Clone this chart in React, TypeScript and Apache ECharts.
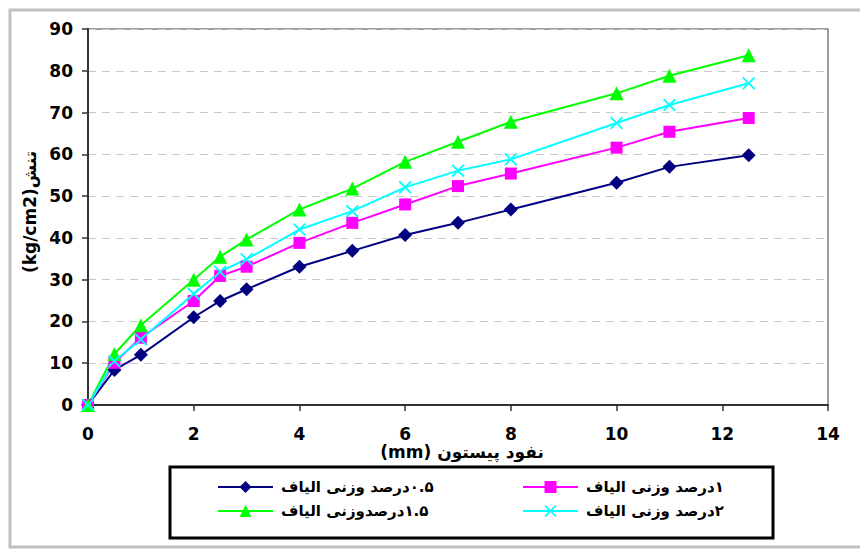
import React, { useEffect, useRef } from "react";
import * as echarts from "echarts";

const xValues = [0, 0.5, 1, 2, 2.5, 3, 4, 5, 6, 7, 8, 10, 11, 12.5];
const s05 = [0, 8.4, 12.0, 21.0, 24.9, 27.7, 33.1, 36.9, 40.7, 43.6, 46.8, 53.2, 57.0, 59.8];
const s1 = [0, 10.1, 16.1, 24.9, 30.9, 33.1, 38.8, 43.6, 48.0, 52.4, 55.4, 61.6, 65.4, 68.7];
const s15 = [0, 12.2, 19.1, 30.0, 35.5, 39.6, 46.8, 51.8, 58.2, 63.0, 67.8, 74.6, 78.8, 83.7];
const s2 = [0, 10.5, 15.7, 26.6, 31.9, 34.9, 42.0, 46.4, 52.1, 56.1, 58.8, 67.5, 71.8, 77.0];

const RLE = "\u202B";
const PDF = "\u202C";
const names = [
  "۰.۵درصد وزنی الیاف",
  "۱درصد وزنی الیاف",
  "۱.۵درصدوزنی الیاف",
  "۲درصد وزنی الیاف",
];
const labels = names.map((n) => RLE + n + PDF);
const colors = ["#000080", "#ff00ff", "#00ff00", "#00ffff"];
const yAxisTitle = "(kg/cm2)تنش";
const xAxisTitle = "(mm) نفود پیستون";

const FONT = '"DejaVu Sans", Verdana, sans-serif';
const CROSS = "path://M0,1 L1,0 L5,4 L9,0 L10,1 L6,5 L10,9 L9,10 L5,6 L1,10 L0,9 L4,5 Z";

export default function App() {
  const ref = useRef<HTMLDivElement>(null);
  useEffect(() => {
    if (!ref.current) return;
    const chart = echarts.init(ref.current, undefined, { renderer: "svg" });
    const seriesData = [s05, s1, s15, s2];
    const symbols = ["diamond", "rect", "triangle", CROSS];
    const sizes = [14, 12, 14, 13];
    const series = seriesData.map((d, i) => ({
      name: labels[i],
      type: "line",
      data: xValues.map((x, j) => [x, d[j]]),
      symbol: symbols[i],
      symbolSize: sizes[i],
      showAllSymbol: true,
      lineStyle: { color: colors[i], width: 2 },
      itemStyle: { color: colors[i] },
      emphasis: { disabled: true },
    }));
    const legendPos = [
      { left: 217, top: 479 },
      { left: 522, top: 479 },
      { left: 217, top: 503 },
      { left: 522, top: 503 },
    ];
    const legends = labels.map((l, i) => ({
      data: [l],
      left: legendPos[i].left,
      top: legendPos[i].top,
      padding: 0,
      itemWidth: 55,
      itemHeight: 15,
      itemGap: 0,
      selectedMode: false,
      textStyle: {
        fontFamily: '"DejaVu Sans", sans-serif',
        fontSize: 15,
        fontWeight: "bold",
        color: "#000",
        lineHeight: 16,
        padding: [0, 0, 0, 3],
      },
    }));
    chart.setOption({
      animation: false,
      backgroundColor: "#fff",
      grid: {
        left: 88,
        right: 32,
        top: 29,
        bottom: 146,
        show: true,
        borderColor: "#808080",
        borderWidth: 1.5,
        backgroundColor: "transparent",
      },
      legend: legends,
      graphic: [
        {
          type: "rect",
          shape: { x: 10, y: 10, width: 880, height: 537 },
          style: { fill: "none", stroke: "#c0c0c0", lineWidth: 3 },
          silent: true,
        },
        {
          type: "rect",
          shape: { x: 170, y: 467, width: 603, height: 71 },
          style: { fill: "none", stroke: "#000", lineWidth: 3 },
          silent: true,
        },
        {
          type: "text",
          x: 30,
          y: 212,
          rotation: Math.PI / 2,
          silent: true,
          style: {
            text: yAxisTitle,
            font: 'bold 17px "DejaVu Sans", sans-serif',
            fill: "#000",
            align: "center",
            verticalAlign: "middle",
          },
        },
        {
          type: "text",
          x: 462,
          y: 452,
          silent: true,
          style: {
            text: xAxisTitle,
            font: 'bold 17px "DejaVu Sans", sans-serif',
            fill: "#000",
            align: "center",
            verticalAlign: "middle",
          },
        },
      ],
      xAxis: {
        type: "value",
        min: 0,
        max: 14,
        interval: 2,
        axisLine: { show: true, onZero: false, lineStyle: { color: "#333", width: 2 } },
        axisTick: { show: true, inside: false, length: 6, lineStyle: { color: "#333", width: 1.5 } },
        axisLabel: { margin: 20, fontFamily: FONT, fontSize: 17, fontWeight: "bold", color: "#000" },
        splitLine: { show: false },
      },
      yAxis: {
        type: "value",
        min: 0,
        max: 90,
        interval: 10,
        axisLine: { show: true, lineStyle: { color: "#333", width: 2 } },
        axisTick: { show: true, inside: false, length: 6, lineStyle: { color: "#333", width: 1.5 } },
        axisLabel: { margin: 15, fontFamily: FONT, fontSize: 17, fontWeight: "bold", color: "#000" },
        splitLine: { show: true, lineStyle: { color: "#c8c8c8", type: [8, 6], width: 1 } },
      },
      series,
    });
    return () => chart.dispose();
  }, []);
  return (
    <div
      ref={ref}
      style={{ position: "fixed", left: 0, top: 0, width: 860, height: 551, background: "#fff" }}
    />
  );
}
